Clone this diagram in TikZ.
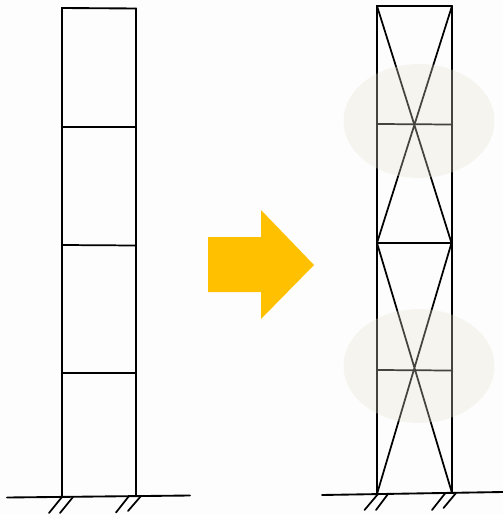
\documentclass[tikz,border=0pt]{standalone}
\definecolor{bgc}{HTML}{FDFDFD}
\definecolor{blobc}{RGB}{227,225,204}
\definecolor{arrowc}{HTML}{FFC000}
\tikzset{
  frame/.style={draw=black,line width=1.4pt,line cap=round},
  thinframe/.style={draw=black,line width=1.3pt,line cap=round},
  blob/.style={fill=blobc,fill opacity=0.3,draw=none},
  bigarrow/.style={fill=arrowc,draw=none}
}
\begin{document}
\begin{tikzpicture}[x=0.75pt,y=-0.75pt]
\fill[bgc] (0,0) rectangle (503,514);
\useasboundingbox (0,0) rectangle (503,514);
% left frame
\coordinate (ltl) at (62,8); \coordinate (ltr) at (136.3,8.5);
\coordinate (lbl) at (62,497); \coordinate (lbr) at (136.3,495.5);
\coordinate (la1) at (62,127); \coordinate (lb1) at (136,127);
\coordinate (la2) at (62,245); \coordinate (lb2) at (136,245.5);
\coordinate (la3) at (62,373); \coordinate (lb3) at (136,373);
\coordinate (lg1) at (7,497.5); \coordinate (lg2) at (190,495.5);
\draw[frame] (lbl) -- (ltl) -- (ltr);
\draw[thinframe] (ltr) -- (lbr);
\draw[thinframe] (la1) -- (lb1) (la2) -- (lb2) (la3) -- (lb3);
\draw[frame] (lg1) -- (lg2);
\coordinate (lh1) at (49,513); \coordinate (lh2) at (60,513);
\coordinate (lh3) at (116,512.5); \coordinate (lh4) at (128,511);
\coordinate (ls1) at (62,497); \coordinate (ls2) at (73,497);
\coordinate (ls3) at (129,496); \coordinate (ls4) at (141,496);
\draw[thinframe] (ls1) -- (lh1) (ls2) -- (lh2) (ls3) -- (lh3) (ls4) -- (lh4);
% right frame
\coordinate (rtl) at (377,6); \coordinate (rtr) at (452,6);
\coordinate (rml) at (377,243); \coordinate (rmr) at (451.5,243);
\coordinate (rbl) at (377,494); \coordinate (rbr) at (452,493);
\coordinate (ra1) at (377,124); \coordinate (rb1) at (452,124.5);
\coordinate (ra2) at (377,370); \coordinate (rb2) at (452,370.5);
\coordinate (rg1) at (322,495); \coordinate (rg2) at (503,492);
\draw[frame] (rbl) -- (rtl) -- (rtr);
\draw[frame] (rtr) -- (rbr);
\draw[frame] (rml) -- (rmr);
\draw[thinframe] (ra1) -- (rb1) (ra2) -- (rb2);
\draw[thinframe] (rtl) -- (rmr) (rtr) -- (rml) (rml) -- (rbr) (rmr) -- (rbl);
\draw[frame] (rg1) -- (rg2);
\coordinate (rs1) at (378,494); \coordinate (rs2) at (388,494);
\coordinate (rs3) at (445,493.5); \coordinate (rs4) at (456,493);
\coordinate (rh1) at (364.5,510); \coordinate (rh2) at (376,510);
\coordinate (rh3) at (432,510); \coordinate (rh4) at (443.5,508);
\draw[thinframe] (rs1) -- (rh1) (rs2) -- (rh2) (rs3) -- (rh3) (rs4) -- (rh4);
% translucent blobs
\path[blob] (419,121) ellipse [x radius=75.5,y radius=57];
\path[blob] (419,366) ellipse [x radius=75.5,y radius=57];
% arrow
\path[bigarrow] (208,237) -- (261,237) -- (261,210) -- (314,265) -- (261,319) -- (261,292) -- (208,292) -- cycle;
\end{tikzpicture}
\end{document}
